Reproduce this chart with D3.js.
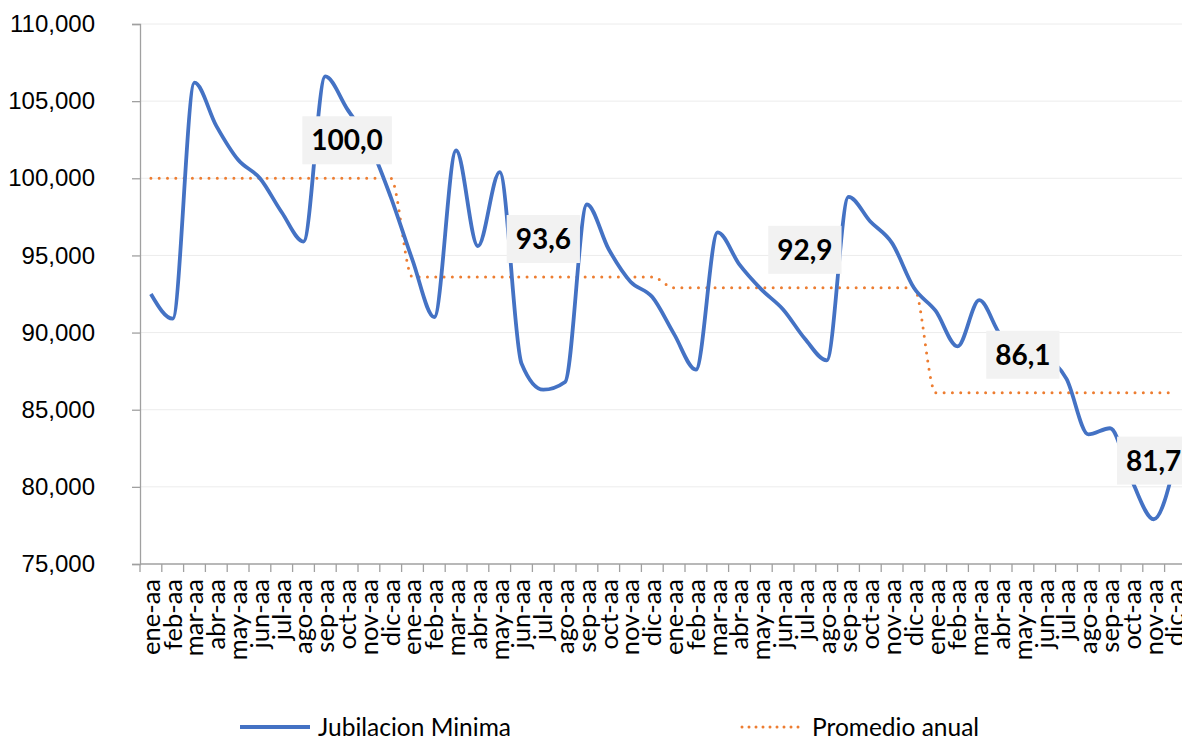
<!DOCTYPE html>
<html>
<head>
<meta charset="utf-8">
<script src="https://cdn.jsdelivr.net/npm/d3@7"></script>
<style>
  body { margin: 0; background: #fff; }
  svg { display: block; font-family: Lato, "Open Sans", sans-serif; }
  .tick text { fill: #000; }
</style>
</head>
<body>
<div id="chart"></div>
<script>
// meses del eje (4 años)
var meses = ["ene", "feb", "mar", "abr", "may", "jun", "jul", "ago", "sep", "oct", "nov", "dic"];
var anios = [1, 2, 3, 4];

// jubilacion minima mensual
var jubilacion = [
  92500, 90900, 106200, 103400, 101200, 100000, 97800, 95900, 106600, 104500, 102300, 98800,
  94700, 91000, 101800, 95600, 100400, 88000, 86300, 86800, 98300, 95400, 93300, 92300,
  89900, 87600, 96500, 94400, 92800, 91500, 89600, 88200, 98800, 97200, 95800, 92900,
  91400, 89100, 92100, 89800, 89100, 88500, 87000, 83400, 83800, 80400, 77900, 81700
];

// promedio anual de cada año
var promedio = [100000, 93600, 92900, 86100];

// etiquetas: valor y mes donde va la etiqueta
var etiquetas = [
  { valor: 100000, mes: 9 },
  { valor: 93600, mes: 18 },
  { valor: 92900, mes: 30 },
  { valor: 86100, mes: 40 },
  { valor: 81700, mes: 46 }
];

var yTicks = [75000, 80000, 85000, 90000, 95000, 100000, 105000, 110000];

var categorias = [];
anios.forEach(function(a) {
  meses.forEach(function(m) { categorias.push(m + "-aa"); });
});

var promedioMensual = categorias.map(function(c, i) { return promedio[Math.floor(i / 12)]; });

var W = 1182, H = 737;
var mLeft = 140, mTop = 24, mBottom = 564;
var step = 21.8;

var svg = d3.select("#chart").append("svg")
    .attr("width", W)
    .attr("height", H);

var x = d3.scaleBand()
    .domain(d3.range(categorias.length))
    .range([mLeft, mLeft + step * categorias.length])
    .padding(0);

var y = d3.scaleLinear()
    .domain([75000, 110000])
    .range([mBottom, mTop]);

var cx = function(i) { return x(i) + x.bandwidth() / 2; };

// grilla
svg.append("g")
  .selectAll("line")
  .data(yTicks.slice(1))
  .enter().append("line")
    .attr("x1", mLeft)
    .attr("x2", W)
    .attr("y1", function(d) { return y(d); })
    .attr("y2", function(d) { return y(d); })
    .attr("stroke", "#ececec")
    .attr("stroke-width", 1);

// eje y
var yAxis = svg.append("g")
    .attr("transform", "translate(" + mLeft + ",0)")
    .call(d3.axisLeft(y).tickValues(yTicks).tickFormat(d3.format(",")).tickSize(8).tickPadding(37));
yAxis.select(".domain").attr("stroke", "#a0a0a0").attr("stroke-width", 1.3);
yAxis.selectAll(".tick line").attr("stroke", "#a0a0a0").attr("stroke-width", 1.3);
yAxis.selectAll(".tick text").style("font-size", "24px");

// eje x
var xAxis = svg.append("g")
    .attr("transform", "translate(0," + mBottom + ")");
xAxis.append("line")
    .attr("x1", mLeft)
    .attr("x2", W)
    .attr("stroke", "#a0a0a0")
    .attr("stroke-width", 1.3);
xAxis.selectAll(".xt")
  .data(d3.range(categorias.length + 1))
  .enter().append("line")
    .attr("class", "xt")
    .attr("x1", function(i) { return mLeft + i * x.bandwidth(); })
    .attr("x2", function(i) { return mLeft + i * x.bandwidth(); })
    .attr("y1", 0)
    .attr("y2", 8)
    .attr("stroke", "#a0a0a0")
    .attr("stroke-width", 1.3);
xAxis.selectAll(".xl")
  .data(categorias)
  .enter().append("text")
    .attr("class", "xl")
    .attr("transform", function(d, i) { return "translate(" + cx(i) + ",15) rotate(-90)"; })
    .attr("dy", "0.35em")
    .style("text-anchor", "end")
    .style("font-size", "25.5px")
    .text(function(d) { return d; });

// lineas
var linea = function(serie) {
  return d3.line()
    .x(function(d, i) { return cx(i); })
    .y(function(d) { return y(d); })
    .curve(d3.curveMonotoneX)(serie);
};

svg.append("path")
    .attr("d", linea(promedioMensual))
    .attr("fill", "none")
    .attr("stroke", "#ED7D31")
    .attr("stroke-width", 3)
    .attr("stroke-linecap", "round")
    .attr("stroke-dasharray", "0 8.3");

svg.append("path")
    .attr("d", linea(jubilacion))
    .attr("fill", "none")
    .attr("stroke", "#4472C4")
    .attr("stroke-width", 3.8)
    .attr("stroke-linejoin", "round");

// etiquetas de datos
var lab = svg.append("g").selectAll("g")
  .data(etiquetas)
  .enter().append("g")
    .attr("transform", function(d, i) {
      var dy = i < 4 ? -38 : 0;
      return "translate(" + cx(d.mes) + "," + (y(d.valor) + dy) + ")";
    });
lab.append("text")
    .attr("text-anchor", "middle")
    .attr("dy", "0.36em")
    .style("font-size", "28px")
    .style("font-weight", "bold")
    .text(function(d) { return (d.valor / 1000).toFixed(1).replace(".", ","); })
    .each(function() {
      var b = this.getBBox();
      d3.select(this.parentNode).insert("rect", "text")
          .attr("x", b.x - 9)
          .attr("y", -24)
          .attr("width", b.width + 18)
          .attr("height", 48)
          .attr("fill", "#f2f2f2");
    });

// leyenda
var leg = svg.append("g").attr("transform", "translate(0,727)");
leg.append("line")
    .attr("x1", 240).attr("x2", 310)
    .attr("stroke", "#4472C4").attr("stroke-width", 3.8);
leg.append("text")
    .attr("x", 318).attr("dy", "0.35em")
    .style("font-size", "24.5px")
    .text("Jubilacion Minima");
leg.append("line")
    .attr("x1", 742).attr("x2", 805)
    .attr("stroke", "#ED7D31").attr("stroke-width", 3)
    .attr("stroke-linecap", "round").attr("stroke-dasharray", "0 7");
leg.append("text")
    .attr("x", 812).attr("dy", "0.35em")
    .style("font-size", "24.5px")
    .text("Promedio anual");
</script>
</body>
</html>
